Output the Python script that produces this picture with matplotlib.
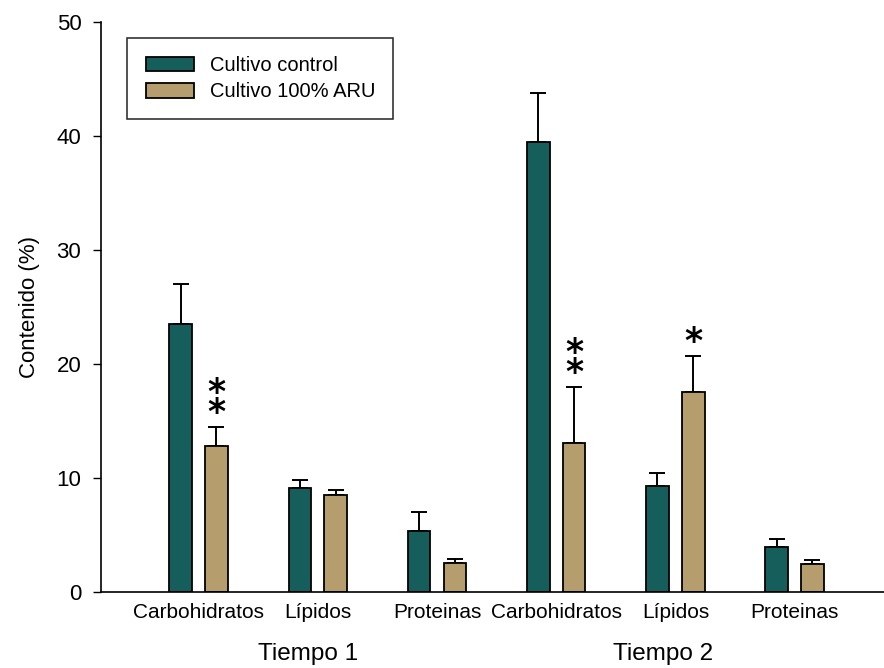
import matplotlib.pyplot as plt
import matplotlib.transforms as mtransforms
import numpy as np

plt.rcParams['font.family'] = ['Liberation Sans', 'DejaVu Sans']

categorias = ["Carbohidratos", "Lípidos", "Proteinas", "Carbohidratos", "Lípidos", "Proteinas"]
tiempos = ["Tiempo 1", "Tiempo 2"]
control = [23.5, 9.1, 5.3, 39.5, 9.3, 3.9]
control_err = [3.5, 0.7, 1.7, 4.3, 1.1, 0.7]
aru = [12.8, 8.5, 2.5, 13.1, 17.5, 2.4]
aru_err = [1.7, 0.4, 0.4, 4.9, 3.2, 0.4]
signif = ["**", "", "", "**", "*", ""]

col_control = "#165e5b"
col_aru = "#b59d6e"

fig = plt.figure(figsize=(8.84, 6.68), dpi=100)
ax = fig.add_axes([0.114, 0.114, 0.886, 0.853])

x = np.arange(len(categorias))
w = 0.19
off = 0.15

ax.bar(x - off, control, w, color=col_control, edgecolor="black", linewidth=1.3, label="Cultivo control", zorder=2)
ax.bar(x + off, aru, w, color=col_aru, edgecolor="black", linewidth=1.3, label="Cultivo 100% ARU", zorder=2)
ax.errorbar(x - off, control, yerr=[np.zeros(len(x)), control_err], fmt="none",
            ecolor="black", elinewidth=1.4, capsize=5.5, capthick=1.4, zorder=1)
ax.errorbar(x + off, aru, yerr=[np.zeros(len(x)), aru_err], fmt="none",
            ecolor="black", elinewidth=1.4, capsize=5.5, capthick=1.4, zorder=1)

# asteriscos de significancia
for xi, v, e, s in zip(x, aru, aru_err, signif):
    if s:
        ax.text(xi + off, v + e - 0.3, "\n".join(s), ha="center", va="bottom",
                fontsize=25, fontweight="bold", linespacing=0.5,
                family="DejaVu Sans")

ax.set_xlim(-0.82, 5.75)
ax.set_ylim(0, 50)
ax.set_yticks([0, 10, 20, 30, 40, 50])
ax.set_xticks(x)
ax.set_xticklabels(categorias)
ax.tick_params(axis="x", length=0, labelsize=15, pad=8)
ax.tick_params(axis="y", length=6, width=1, labelsize=16, direction="out", pad=8)
ax.set_ylabel("Contenido (%)", fontsize=16, labelpad=12)
for s in ["top", "right"]:
    ax.spines[s].set_visible(False)
ax.spines["left"].set_linewidth(1.2)
ax.spines["bottom"].set_linewidth(1.2)

trans = mtransforms.blended_transform_factory(ax.transData, fig.transFigure)
for xt, t in zip([0.92, 3.9], tiempos):
    fig.text(xt, 0.005, t, transform=trans, ha="center", va="bottom", fontsize=17.5)

leg = ax.legend(loc="upper left", bbox_to_anchor=(0.034, 0.972), borderaxespad=0,
                fontsize=14.5, frameon=True, fancybox=False, edgecolor="black",
                borderpad=0.9, handlelength=2.4, handleheight=0.75,
                labelspacing=0.35, handletextpad=0.8)
leg.get_frame().set_linewidth(1.2)

fig.savefig("out.png", dpi=100)
